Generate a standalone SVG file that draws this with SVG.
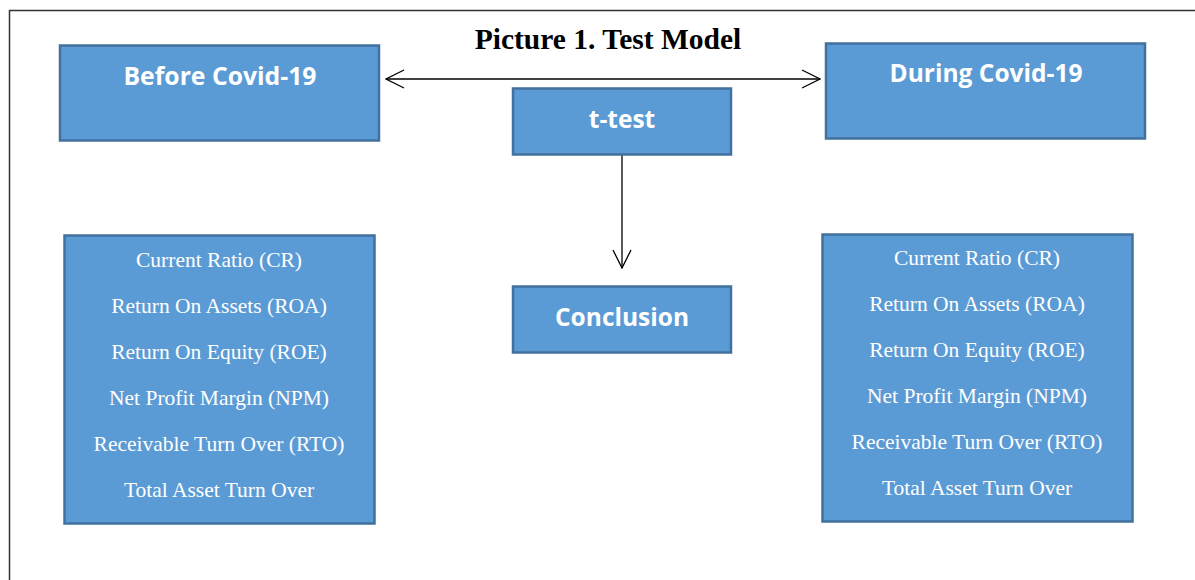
<svg xmlns="http://www.w3.org/2000/svg" width="1195" height="580" viewBox="0 0 1195 580">
  <style>
    .box { fill: #5B9BD5; stroke: #41719C; stroke-width: 2.5; }
    .head { font-family: "Open Sans", "Liberation Sans", sans-serif; font-weight: bold; fill: #ffffff; text-anchor: middle; font-size: 24.5px; }
    .item { font-family: "Liberation Serif", serif; fill: #ffffff; text-anchor: middle; font-size: 21.5px; }
    .title { font-family: "Liberation Serif", serif; font-weight: bold; fill: #000000; text-anchor: middle; font-size: 29.5px; }
    .conn { stroke: #000000; stroke-width: 1.3; fill: none; }
  </style>
  <defs>
    <marker id="open" viewBox="0 0 20 20" refX="19" refY="10" markerWidth="20" markerHeight="20" markerUnits="userSpaceOnUse" orient="auto-start-reverse">
      <path d="M1,1 L19,10 L1,19" fill="none" stroke="#000" stroke-width="1.3"/>
    </marker>
  </defs>

  <rect width="1195" height="580" fill="#ffffff"/>
  <!-- page frame -->
  <path d="M9.5,580 V10.5 H1195" fill="none" stroke="#333" stroke-width="1.5"/>

  <text class="title" x="608" y="49">Picture 1. Test Model</text>

  <g id="connectors">
    <line class="conn" x1="386" y1="79" x2="820" y2="79" marker-start="url(#open)" marker-end="url(#open)"/>
    <line class="conn" x1="622" y1="147" x2="622" y2="268" marker-end="url(#open)"/>
  </g>

  <g id="before">
    <rect class="box" x="60" y="45.5" width="319" height="95"/>
    <text class="head" x="220" y="85" textLength="193" lengthAdjust="spacingAndGlyphs">Before Covid-19</text>
  </g>

  <g id="during">
    <rect class="box" x="826" y="43.5" width="319" height="95"/>
    <text class="head" x="986" y="82" textLength="193" lengthAdjust="spacingAndGlyphs">During Covid-19</text>
  </g>

  <g id="ttest">
    <rect class="box" x="513" y="88.5" width="218" height="66"/>
    <text class="head" x="622" y="128">t-test</text>
  </g>

  <g id="conclusion">
    <rect class="box" x="513" y="286.5" width="218" height="66"/>
    <text class="head" x="622" y="326">Conclusion</text>
  </g>

  <g id="ratios-before">
    <rect class="box" x="64.5" y="235.5" width="310" height="288"/>
    <text class="item" x="219" y="267">Current Ratio (CR)</text>
    <text class="item" x="219" y="313">Return On Assets (ROA)</text>
    <text class="item" x="219" y="359">Return On Equity (ROE)</text>
    <text class="item" x="219" y="405">Net Profit Margin (NPM)</text>
    <text class="item" x="219" y="451">Receivable Turn Over (RTO)</text>
    <text class="item" x="219" y="497">Total Asset Turn Over</text>
  </g>

  <g id="ratios-during">
    <rect class="box" x="822.5" y="234.5" width="310" height="287"/>
    <text class="item" x="977" y="265">Current Ratio (CR)</text>
    <text class="item" x="977" y="311">Return On Assets (ROA)</text>
    <text class="item" x="977" y="357">Return On Equity (ROE)</text>
    <text class="item" x="977" y="403">Net Profit Margin (NPM)</text>
    <text class="item" x="977" y="449">Receivable Turn Over (RTO)</text>
    <text class="item" x="977" y="495">Total Asset Turn Over</text>
  </g>
</svg>
